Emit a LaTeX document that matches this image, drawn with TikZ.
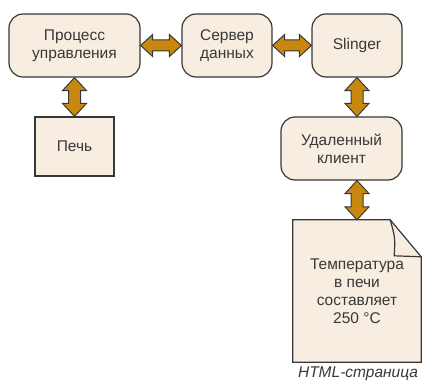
\documentclass[tikz,border=0pt]{standalone}
\usepackage{fontspec}
\setmainfont{Liberation Sans}
\usetikzlibrary{calc}

\definecolor{boxfill}{HTML}{F7EEE1}
\definecolor{linkfill}{HTML}{C8870F}
\definecolor{edge}{HTML}{383838}

% double block arrow, top point #1 down to bottom point #2
\newcommand{\vlink}[2]{%
  \draw[link] let \p1=(#1), \p2=(#2) in
    (\x1,\y1) -- (\x1+12pt,\y1-13pt) -- (\x1+6pt,\y1-13pt)
    -- (\x1+6pt,\y2+13pt) -- (\x1+12pt,\y2+13pt) -- (\x1,\y2)
    -- (\x1-12pt,\y2+13pt) -- (\x1-6pt,\y2+13pt)
    -- (\x1-6pt,\y1-13pt) -- (\x1-12pt,\y1-13pt) -- cycle;}
% same thing, left point #1 to right point #2
\newcommand{\hlink}[2]{%
  \draw[link] let \p1=(#1), \p2=(#2) in
    (\x1,\y1) -- (\x1+12pt,\y1+11pt) -- (\x1+12pt,\y1+5.5pt)
    -- (\x2-12pt,\y1+5.5pt) -- (\x2-12pt,\y1+11pt) -- (\x2,\y1)
    -- (\x2-12pt,\y1-11pt) -- (\x2-12pt,\y1-5.5pt)
    -- (\x1+12pt,\y1-5.5pt) -- (\x1+12pt,\y1-11pt) -- cycle;}

\begin{document}
\begin{tikzpicture}[
    x=1pt, y=-1pt,
    block/.style={
        draw=edge,
        line width=1.2pt,
        fill=boxfill,
        rounded corners=14pt,
        minimum width=90pt,
        minimum height=63pt,
        align=center,
        text=edge,
        font=\fontsize{15.5}{18}\selectfont
    },
    plain/.style={block, rounded corners=0pt},
    pagebox/.style={
        minimum width=128pt,
        minimum height=142pt,
        align=center,
        text=edge,
        font=\fontsize{15.5}{18}\selectfont
    },
    caption/.style={text=edge, font=\fontsize{15.5}{18}\selectfont\itshape},
    link/.style={draw=edge, line width=1pt, fill=linkfill, line join=miter}
]
    \useasboundingbox (0,0) rectangle (422,382);

    \node[block, minimum width=131pt] (proc) at (74.5,45.5) {Процесс\\управления};
    \node[block] (server) at (227,45.5) {Сервер\\данных};
    \node[block] (slinger) at (357,45.5) {Slinger};
    \node[plain, minimum width=79pt, minimum height=59pt] (furnace) at (74.5,146.5) {Печь};
    \node[block, minimum width=121pt] (client) at (341.5,148.5) {Удаленный\\клиент};

    % html page with a folded corner
    \node[pagebox] (page) at (357,291) {};
    \draw[draw=edge, line width=1.2pt, fill=boxfill]
        (page.north west) -- ([xshift=-31pt]page.north east)
        -- ([yshift=-37pt]page.north east) -- (page.south east)
        -- (page.south west) -- cycle;
    \draw[draw=edge, line width=1.2pt]
        ([xshift=-31pt]page.north east)
        .. controls ([xshift=-26pt,yshift=-18pt]page.north east) .. ([xshift=-27pt,yshift=-36pt]page.north east)
        -- ([yshift=-37pt]page.north east);
    \node[pagebox] (pagetext) at (page.center) {Температура\\в печи\\составляет\\250 °C};
    \node[caption] (pagecap) at (358,374) {HTML-страница};

    \hlink{proc.east}{server.west}
    \hlink{server.east}{slinger.west}
    \vlink{proc.south}{furnace.north}
    \vlink{slinger.south}{slinger.south |- client.north}
    \vlink{slinger.south |- client.south}{page.north}
\end{tikzpicture}
\end{document}
